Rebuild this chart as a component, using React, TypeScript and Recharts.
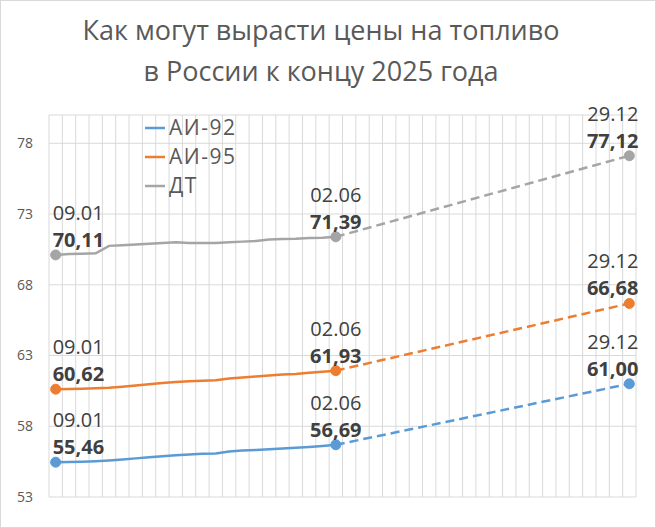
import React from "react";
import { LineChart, Line, XAxis, YAxis, CartesianGrid, Legend } from "recharts";

const titleLines = ["Как могут вырасти цены на топливо", "в России к концу 2025 года"];

const totalWeeks = 44;
const labelIndices = [0, 21, 43];
const labelDates = ["09.01", "02.06", "29.12"];

const ai92Actual = [55.46, 55.48, 55.5, 55.53, 55.58, 55.65, 55.73, 55.81, 55.88, 55.95, 56.0, 56.05, 56.08, 56.22, 56.28, 56.33, 56.38, 56.43, 56.48, 56.53, 56.6, 56.69];
const ai95Actual = [60.62, 60.63, 60.65, 60.68, 60.72, 60.8, 60.88, 60.97, 61.05, 61.12, 61.18, 61.22, 61.25, 61.38, 61.45, 61.52, 61.58, 61.65, 61.7, 61.78, 61.85, 61.93];
const dtActual = [70.11, 70.17, 70.19, 70.22, 70.75, 70.8, 70.85, 70.9, 70.95, 71.0, 70.96, 70.95, 70.96, 71.0, 71.05, 71.1, 71.2, 71.23, 71.25, 71.3, 71.33, 71.39];

const forecastIdx = [21, 43];
const ai92Forecast = [56.69, 61.0];
const ai95Forecast = [61.93, 66.68];
const dtForecast = [71.39, 77.12];

const yTicks = [53, 58, 63, 68, 73, 78];
const yDomain = [53, 80];

const series = [
  { key: "ai92", name: "АИ-92", color: "#5B9BD5", actual: ai92Actual, forecast: ai92Forecast },
  { key: "ai95", name: "АИ-95", color: "#ED7D31", actual: ai95Actual, forecast: ai95Forecast },
  { key: "dt", name: "ДТ", color: "#A5A5A5", actual: dtActual, forecast: dtForecast },
];

const data = Array.from({ length: totalWeeks }, (_, i) => {
  const row: any = { x: i };
  series.forEach((s) => {
    row[s.key] = i < s.actual.length ? s.actual[i] : null;
    const fi = forecastIdx.indexOf(i);
    row[s.key + "F"] = fi >= 0 ? s.forecast[fi] : null;
  });
  return row;
});

const xTicks = Array.from({ length: totalWeeks + 1 }, (_, i) => i - 0.5);

const FONT = "'Open Sans', 'Noto Sans', sans-serif";

const makeDot = (color: string, allowed: number[]) => (props: any) => {
  const { cx, cy, index } = props;
  if (!allowed.includes(index) || cx == null || cy == null) return <g key={`d-${index}`} />;
  return <circle key={`d-${index}`} cx={cx} cy={cy} r={5} fill={color} stroke={color} strokeWidth={1} />;
};

const makeLabel = (allowed: number[]) => (props: any) => {
  const { x, y, index, value } = props;
  if (!allowed.includes(index) || value == null) return <g key={`l-${index}`} />;
  const li = labelIndices.indexOf(index);
  let anchor: any = "middle";
  let tx = x;
  if (li === 0) {
    anchor = "start";
    tx = x - 3;
  } else if (li === labelIndices.length - 1) {
    anchor = "end";
    tx = x + 9;
  }
  return (
    <g key={`l-${index}`}>
      <text x={tx} y={y - 35} textAnchor={anchor} fontFamily={FONT} fontSize={20} fill="#404040">
        {labelDates[li]}
      </text>
      <text x={tx} y={y - 8} textAnchor={anchor} fontFamily={FONT} fontSize={20} fontWeight="bold" fill="#404040">
        {Number(value).toFixed(2).replace(".", ",")}
      </text>
    </g>
  );
};

const renderLegend = () => (
  <div style={{ fontFamily: FONT, fontSize: 21, color: "#595959", lineHeight: "29px", letterSpacing: 1.5 }}>
    {series.map((s) => (
      <div key={s.key} style={{ display: "flex", alignItems: "center", whiteSpace: "nowrap", height: 29 }}>
        <svg width={24} height={10} style={{ marginRight: 2 }}>
          <line x1={2} y1={5} x2={22} y2={5} stroke={s.color} strokeWidth={2.5} />
        </svg>
        <span>{s.name}</span>
      </div>
    ))}
  </div>
);

export default function App() {
  return (
    <div
      style={{
        position: "absolute",
        left: 0,
        top: 0,
        width: 656,
        height: 528,
        boxSizing: "border-box",
        border: "1px solid #D9D9D9",
        background: "#fff",
        overflow: "hidden",
      }}
    >
      <div
        style={{
          position: "absolute",
          left: 0,
          top: 8,
          width: 640,
          textAlign: "center",
          fontFamily: FONT,
          fontSize: 27,
          lineHeight: "41px",
          color: "#595959",
        }}
      >
        {titleLines.map((t) => (
          <div key={t}>{t}</div>
        ))}
      </div>
      <div style={{ position: "absolute", left: -1, top: -1 }}>
        <LineChart width={656} height={528} data={data} margin={{ top: 115, right: 20, bottom: 31, left: 9 }}>
          <CartesianGrid stroke="#D9D9D9" strokeWidth={1} horizontal={true} vertical={true} />
          <XAxis dataKey="x" type="number" domain={[-0.5, totalWeeks - 0.5]} ticks={xTicks} interval={0} hide />
          <YAxis
            domain={yDomain}
            ticks={yTicks}
            width={40}
            axisLine={false}
            tickLine={false}
            tickSize={0}
            tickMargin={16}
            tick={{ fontFamily: FONT, fontSize: 14, fill: "#595959" }}
          />
          <Legend
            layout="vertical"
            align="center"
            verticalAlign="middle"
            content={renderLegend}
            wrapperStyle={{ left: 143, top: 113, width: "auto", height: "auto" }}
          />
          {series.map((s) => (
            <Line
              key={s.key}
              dataKey={s.key}
              name={s.name}
              stroke={s.color}
              strokeWidth={2.5}
              dot={makeDot(s.color, [labelIndices[0], labelIndices[1]])}
              label={makeLabel([labelIndices[0], labelIndices[1]])}
              isAnimationActive={false}
              connectNulls={false}
              legendType="line"
            />
          ))}
          {series.map((s) => (
            <Line
              key={s.key + "F"}
              dataKey={s.key + "F"}
              name={s.name + " прогноз"}
              stroke={s.color}
              strokeWidth={2.5}
              strokeDasharray="9 5"
              dot={makeDot(s.color, [labelIndices[2]])}
              label={makeLabel([labelIndices[2]])}
              isAnimationActive={false}
              connectNulls={true}
              legendType="none"
            />
          ))}
        </LineChart>
      </div>
    </div>
  );
}
